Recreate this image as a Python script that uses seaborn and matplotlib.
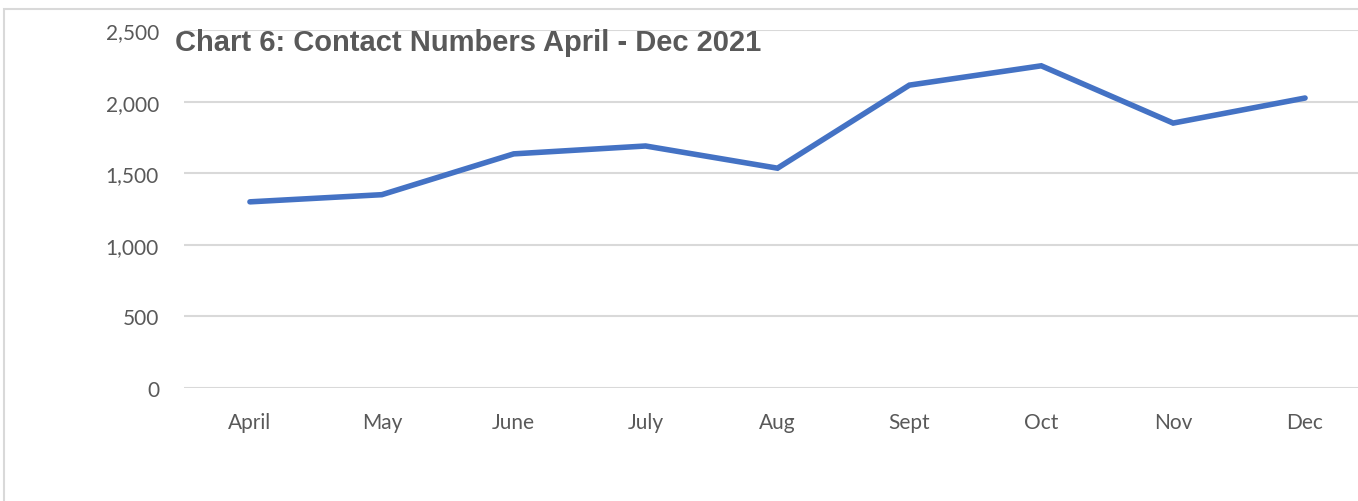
import pandas as pd
import seaborn as sns
import matplotlib.pyplot as plt
from matplotlib.patches import Rectangle
from matplotlib.ticker import FuncFormatter

months = ['April', 'May', 'June', 'July', 'Aug', 'Sept', 'Oct', 'Nov', 'Dec']
contacts = [1300, 1350, 1635, 1690, 1535, 2115, 2250, 1850, 2025]
y_ticks = [0, 500, 1000, 1500, 2000, 2500]
title = 'Chart 6: Contact Numbers April - Dec 2021'

df = pd.DataFrame({'month': months, 'contacts': contacts})

sns.set_theme(style='white')
plt.rcParams['font.family'] = ['Lato', 'DejaVu Sans']

fig = plt.figure(figsize=(13.58, 5.02), dpi=100)
# outer chart border (the picture is cropped on the right and bottom)
fig.patches.append(Rectangle((4/1358, -0.1), 1.1, (502-10)/502 + 0.1, transform=fig.transFigure,
                             fill=False, edgecolor='#D9D9D9', linewidth=1.5))

ax = fig.add_axes([184/1358, 113/502, 1187/1358, 358/502])
sns.lineplot(data=df, x='month', y='contacts', ax=ax, color='#4472C4', linewidth=4.0,
             sort=False, solid_capstyle='round', solid_joinstyle='miter')

ax.set_xlim(-0.5, len(months) - 0.5)
ax.set_ylim(0, 2500)
ax.set_yticks(y_ticks)
ax.yaxis.set_major_formatter(FuncFormatter(lambda v, p: f'{int(v):,}'))
ax.grid(axis='y', color='#D9D9D9', linewidth=1.5)
ax.set_axisbelow(True)
for s in ax.spines.values():
    s.set_visible(False)
ax.tick_params(axis='x', length=0, pad=17, labelsize=15, labelcolor='#595959')
ax.tick_params(axis='y', length=0, pad=18, labelsize=15, labelcolor='#595959')
ax.set_xlabel('')
ax.set_ylabel('')

fig.text(175/1358, 1 - 43/502, title, ha='left', va='center', fontsize=21,
         fontweight='bold', color='#595959', family=['Liberation Sans', 'DejaVu Sans'])

fig.savefig('out.png', dpi=100)
